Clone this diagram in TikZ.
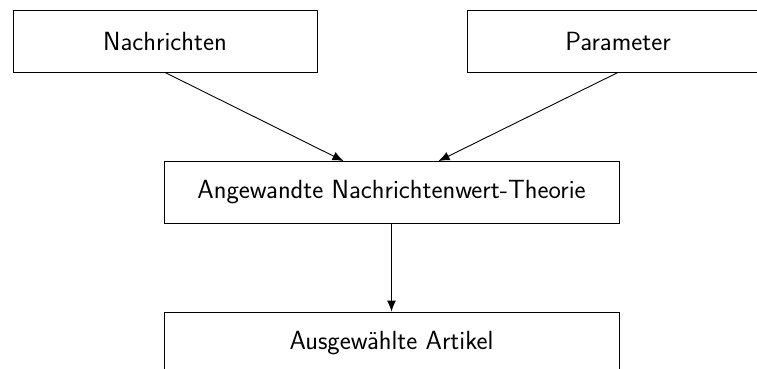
\documentclass[tikz,border=0pt]{standalone}
\usetikzlibrary{arrows.meta,calc}
\begin{document}
\begin{tikzpicture}[x=1pt,y=-1pt,
  flowbox/.style={draw, line width=0.9pt, inner sep=0pt, minimum height=62pt,
    font=\sffamily\fontsize{26.3}{31}\selectfont},
  flowarrow/.style={draw, line width=0.9pt, -{Latex[length=11pt,width=9pt]}}]
  \useasboundingbox (0,0) rectangle (757,369);
  \clip (0,0) rectangle (757,369);
  % input boxes
  \node[flowbox, minimum width=304pt] (nach) at (165,41) {Nachrichten};
  \node[flowbox, minimum width=302pt] (param) at (618,41) {Parameter};
  % processing step
  \node[flowbox, minimum width=455pt] (theo) at (391.5,192.5) {Angewandte Nachrichtenwert-Theorie};
  % result
  \node[flowbox, minimum width=455pt] (art) at (391.5,343) {Ausgewählte Artikel};
  % connectors
  \draw[flowarrow] (nach.south) -- ([xshift=-48pt]theo.north);
  \draw[flowarrow] (param.south) -- ([xshift=47pt]theo.north);
  \draw[flowarrow] (theo.south) -- (art.north);
\end{tikzpicture}
\end{document}
